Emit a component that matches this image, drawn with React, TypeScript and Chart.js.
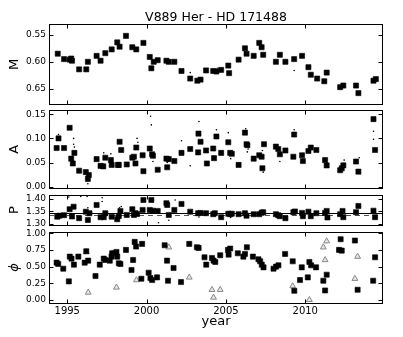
import React, { useEffect, useRef } from 'react';
import { Chart, registerables } from 'chart.js';

Chart.register(...registerables);
Chart.defaults.font.family = "'DejaVu Sans', sans-serif";
Chart.defaults.color = '#000';

// ---------- data ----------
const X_MIN = 1993.85;
const X_MAX = 2014.9;
const xTickYears = [1995, 2000, 2005, 2010];

const mTicks = [0.55, 0.6, 0.65];
const aTicks = [0.0, 0.05, 0.1, 0.15];
const pTicks = [1.3, 1.35, 1.4];
const phTicks = [0.0, 0.25, 0.5, 0.75, 1.0];

const mYears = [1994.4, 1994.8, 1995.15, 1995.25, 1995.3, 1995.75, 1996.2, 1996.3, 1996.85, 1997.1, 1997.4, 1997.8, 1998.15, 1998.3, 1998.7, 1999.1, 1999.35, 1999.8, 2000.2, 2000.3, 2000.45, 2000.7, 2001.25, 2001.4, 2001.75, 2002.2, 2002.75, 2003.2, 2003.4, 2003.75, 2004.2, 2004.4, 2004.7, 2005.15, 2005.2, 2005.8, 2006.2, 2006.3, 2006.75, 2007.1, 2007.25, 2007.35, 2008.15, 2008.4, 2008.75, 2009.3, 2009.8, 2010.2, 2010.35, 2010.75, 2011.2, 2011.35, 2012.2, 2012.4, 2013.2, 2013.35, 2014.3, 2014.45];
const mVals = [0.585, 0.595, 0.596, 0.594, 0.598, 0.614, 0.614, 0.6, 0.589, 0.598, 0.584, 0.577, 0.564, 0.572, 0.552, 0.573, 0.577, 0.565, 0.591, 0.612, 0.6, 0.597, 0.598, 0.6, 0.6, 0.617, 0.631, 0.635, 0.633, 0.616, 0.617, 0.618, 0.615, 0.607, 0.621, 0.596, 0.575, 0.585, 0.589, 0.565, 0.573, 0.587, 0.6, 0.587, 0.6, 0.595, 0.589, 0.61, 0.624, 0.631, 0.636, 0.62, 0.647, 0.644, 0.644, 0.658, 0.635, 0.632];
const mDotYears = [2002.75, 2004.45, 2009.3];
const mDotVals = [0.62, 0.612, 0.616];

const aYears = [1994.33, 1994.45, 1994.8, 1995.15, 1995.25, 1995.35, 1995.45, 1995.75, 1996.17, 1996.3, 1996.36, 1996.85, 1997.1, 1997.27, 1997.4, 1997.75, 1997.8, 1998.2, 1998.25, 1998.3, 1998.4, 1998.75, 1999.1, 1999.2, 1999.3, 1999.35, 1999.75, 1999.8, 2000.2, 2000.35, 2000.4, 2000.7, 2001.25, 2001.3, 2001.4, 2001.75, 2002.2, 2002.75, 2003.25, 2003.27, 2003.4, 2003.75, 2003.8, 2004.2, 2004.25, 2004.4, 2004.7, 2005.15, 2005.27, 2005.37, 2005.8, 2006.2, 2006.3, 2006.35, 2006.75, 2007.1, 2007.25, 2007.3, 2007.4, 2008.15, 2008.3, 2008.4, 2008.75, 2009.25, 2009.3, 2009.8, 2009.85, 2010.2, 2010.35, 2010.7, 2011.25, 2011.35, 2012.2, 2012.3, 2012.4, 2013.2, 2013.35, 2014.3, 2014.4];
const aVals = [0.08, 0.1, 0.08, 0.122, 0.058, 0.048, 0.07, 0.033, 0.03, 0.016, 0.024, 0.057, 0.043, 0.042, 0.06, 0.055, 0.045, 0.045, 0.045, 0.093, 0.076, 0.046, 0.06, 0.062, 0.048, 0.081, 0.065, 0.032, 0.079, 0.067, 0.064, 0.035, 0.058, 0.04, 0.057, 0.053, 0.07, 0.078, 0.071, 0.11, 0.093, 0.075, 0.048, 0.079, 0.059, 0.104, 0.07, 0.092, 0.07, 0.068, 0.045, 0.112, 0.088, 0.086, 0.058, 0.065, 0.062, 0.038, 0.088, 0.083, 0.078, 0.067, 0.075, 0.062, 0.108, 0.065, 0.053, 0.074, 0.081, 0.076, 0.055, 0.044, 0.034, 0.038, 0.044, 0.052, 0.031, 0.14, 0.076];
const aDotYears = [1994.45, 1995.4, 1995.4, 1995.45, 1996.3, 1997.3, 1997.75, 1998.4, 1999.4, 1999.45, 2000.25, 2000.3, 2000.4, 2001.3, 2002.2, 2002.75, 2003.3, 2004.25, 2004.4, 2005.15, 2005.3, 2006.25, 2006.35, 2006.4, 2007.3, 2007.35, 2008.4, 2009.3, 2012.45, 2013.4, 2014.3, 2014.3];
const aDotVals = [0.108, 0.1, 0.088, 0.082, 0.006, 0.07, 0.068, 0.092, 0.1, 0.092, 0.146, 0.128, 0.052, 0.05, 0.095, 0.043, 0.135, 0.082, 0.118, 0.112, 0.058, 0.12, 0.072, 0.078, 0.075, 0.03, 0.052, 0.118, 0.055, 0.06, 0.115, 0.098];

const pYears = [1994.37, 1994.5, 1994.8, 1995.15, 1995.3, 1995.4, 1995.75, 1996.17, 1996.3, 1996.4, 1996.85, 1997.1, 1997.3, 1997.4, 1997.8, 1998.15, 1998.25, 1998.35, 1998.75, 1999.1, 1999.2, 1999.3, 1999.4, 1999.75, 1999.8, 2000.2, 2000.3, 2000.4, 2000.7, 2001.25, 2001.3, 2001.4, 2001.75, 2002.2, 2002.75, 2003.25, 2003.4, 2003.75, 2004.2, 2004.3, 2004.7, 2005.15, 2005.27, 2005.37, 2005.8, 2006.2, 2006.3, 2006.75, 2007.1, 2007.25, 2007.35, 2008.15, 2008.3, 2008.4, 2008.75, 2009.25, 2009.35, 2009.8, 2009.85, 2010.2, 2010.35, 2010.7, 2011.25, 2011.35, 2011.4, 2012.2, 2012.35, 2012.4, 2013.2, 2013.35, 2014.3, 2014.4];
const pVals = [1.329, 1.333, 1.335, 1.359, 1.33, 1.369, 1.323, 1.349, 1.316, 1.343, 1.376, 1.327, 1.327, 1.343, 1.329, 1.319, 1.332, 1.352, 1.336, 1.359, 1.336, 1.343, 1.34, 1.356, 1.396, 1.356, 1.396, 1.353, 1.352, 1.383, 1.376, 1.336, 1.356, 1.38, 1.349, 1.343, 1.344, 1.343, 1.339, 1.343, 1.327, 1.341, 1.339, 1.341, 1.339, 1.343, 1.333, 1.339, 1.339, 1.345, 1.347, 1.339, 1.335, 1.331, 1.323, 1.347, 1.35, 1.344, 1.331, 1.349, 1.331, 1.343, 1.344, 1.352, 1.326, 1.339, 1.352, 1.327, 1.347, 1.372, 1.353, 1.327];
const pDotYears = [1995.1, 1995.85, 1996.25, 1996.3, 1997.2, 1997.2, 1998.3, 1998.4, 2000.75, 2001.8, 2001.4, 2003.3, 2005.3, 2013.3, 2010.3];
const pDotVals = [1.408, 1.41, 1.41, 1.365, 1.405, 1.39, 1.365, 1.37, 1.305, 1.396, 1.315, 1.328, 1.326, 1.38, 1.325];
const pSolidLevel = 1.344;
const pDashedLevel = 1.335;

const phYears = [1994.33, 1994.43, 1994.75, 1995.1, 1995.16, 1995.27, 1995.42, 1995.7, 1996.1, 1996.2, 1996.32, 1996.78, 1997.05, 1997.3, 1997.4, 1997.68, 1997.79, 1997.83, 1998.1, 1998.15, 1998.25, 1998.35, 1998.7, 1999.05, 1999.15, 1999.25, 1999.34, 1999.67, 1999.72, 2000.13, 2000.24, 2000.35, 2000.66, 2001.14, 2001.29, 2001.35, 2001.7, 2002.17, 2002.69, 2003.17, 2003.28, 2003.65, 2003.76, 2004.12, 2004.22, 2004.33, 2004.64, 2005.13, 2005.17, 2005.27, 2005.75, 2006.1, 2006.2, 2006.32, 2006.7, 2007.05, 2007.16, 2007.26, 2007.37, 2008.0, 2008.16, 2008.31, 2008.73, 2009.21, 2009.31, 2009.67, 2009.78, 2010.16, 2010.26, 2010.37, 2010.68, 2011.14, 2011.25, 2011.35, 2012.13, 2012.23, 2012.3, 2013.13, 2013.3, 2014.28, 2014.4];
const phVals = [0.56, 0.54, 0.47, 0.28, 0.65, 0.62, 0.53, 0.65, 0.56, 0.73, 0.59, 0.36, 0.53, 0.62, 0.6, 0.59, 0.65, 0.7, 0.72, 0.65, 0.55, 0.54, 0.75, 0.45, 0.6, 0.87, 0.8, 0.32, 0.84, 0.41, 0.33, 0.3, 0.34, 0.82, 0.59, 0.29, 0.48, 0.27, 0.84, 0.79, 0.78, 0.64, 0.53, 0.63, 0.59, 0.57, 0.67, 0.75, 0.68, 0.77, 0.7, 0.65, 0.69, 0.79, 0.65, 0.61, 0.58, 0.53, 0.49, 0.47, 0.5, 0.52, 0.69, 0.58, 0.14, 0.3, 0.49, 0.34, 0.57, 0.52, 0.49, 0.29, 0.145, 0.38, 0.75, 0.91, 0.74, 0.89, 0.155, 0.29, 0.64];
const triYears = [1996.2, 1996.32, 1997.83, 1998.1, 1999.36, 2001.4, 2002.69, 2004.12, 2004.22, 2004.64, 2009.21, 2010.26, 2011.14, 2011.25, 2011.35, 2013.13, 2013.3];
const triVals = [0.72, 0.115, 0.7, 0.19, 0.3, 0.79, 0.34, 0.155, 0.04, 0.155, 0.21, 0.005, 0.79, 0.6, 0.88, 0.32, 0.65];

// ---------- helpers ----------
const pts = (xs: number[], ys: number[]) => xs.map((x, i) => ({ x, y: ys[i] }));

const squares = (xs: number[], ys: number[]) => ({
  data: pts(xs, ys),
  pointStyle: 'rect',
  pointRadius: 3.6,
  backgroundColor: '#000',
  borderColor: '#000',
  borderWidth: 0.6,
  order: 0,
});
const dots = (xs: number[], ys: number[]) => ({
  data: pts(xs, ys),
  pointStyle: 'circle',
  pointRadius: 0.8,
  backgroundColor: '#000',
  borderColor: '#000',
  borderWidth: 0,
  order: 1,
});
const triangles = (xs: number[], ys: number[]) => ({
  data: pts(xs, ys),
  pointStyle: 'triangle',
  pointRadius: 3.4,
  backgroundColor: '#e4e4e4',
  borderColor: '#8a8a8a',
  borderWidth: 1,
  order: 2,
});

const framePlugin = {
  id: 'frame',
  beforeDatasetsDraw(chart: any, _a: any, opts: any) {
    const { ctx, chartArea: ca, scales } = chart;
    const lines = opts.hlines || [];
    ctx.save();
    for (const h of lines) {
      const y = Math.round(scales.y.getPixelForValue(h.value)) + 0.5;
      ctx.beginPath();
      ctx.setLineDash(h.dash || []);
      ctx.strokeStyle = h.color;
      ctx.lineWidth = 1;
      ctx.moveTo(ca.left, y);
      ctx.lineTo(ca.right, y);
      ctx.stroke();
    }
    ctx.restore();
  },
  afterDatasetsDraw(chart: any, _a: any, opts: any) {
    const { ctx, chartArea: ca, scales } = chart;
    ctx.save();
    ctx.strokeStyle = '#000';
    ctx.lineWidth = 1;
    const L = Math.round(ca.left) + 0.5;
    const R = Math.round(ca.right) - 0.5;
    const T = Math.round(ca.top) + 0.5;
    const B = Math.round(ca.bottom) - 0.5;
    ctx.strokeRect(L, T, R - L, B - T);
    const tl = 4;
    ctx.beginPath();
    for (const v of opts.xTicks) {
      const x = Math.round(scales.x.getPixelForValue(v)) + 0.5;
      ctx.moveTo(x, B); ctx.lineTo(x, B - tl);
      ctx.moveTo(x, T); ctx.lineTo(x, T + tl);
    }
    for (const v of opts.yTicks) {
      const y = Math.round(scales.y.getPixelForValue(v)) + 0.5;
      ctx.moveTo(L, y); ctx.lineTo(L + tl, y);
      ctx.moveTo(R, y); ctx.lineTo(R - tl, y);
    }
    ctx.stroke();
    ctx.restore();
  },
};

type Panel = {
  label: string;
  italic?: boolean;
  yMin: number;
  yMax: number;
  reverse?: boolean;
  yTicks: number[];
  padTop: number;
  padBottom: number;
  title?: string;
  showX?: boolean;
  hlines?: any[];
  datasets: any[];
};

const panels: Panel[] = [
  {
    label: 'M', yMin: 0.53, yMax: 0.68, reverse: true, yTicks: mTicks,
    padTop: 0, padBottom: 232, title: 'V889 Her - HD 171488',
    datasets: [squares(mYears, mVals), dots(mDotYears, mDotVals)],
  },
  {
    label: 'A', yMin: -0.005, yMax: 0.16, yTicks: aTicks,
    padTop: 109.5, padBottom: 148,
    datasets: [squares(aYears, aVals), dots(aDotYears, aDotVals)],
  },
  {
    label: 'P', yMin: 1.293, yMax: 1.417, yTicks: pTicks,
    padTop: 194.7, padBottom: 111.3,
    hlines: [
      { value: pSolidLevel, color: '#000', dash: [] },
      { value: pDashedLevel, color: '#555', dash: [5, 4] },
    ],
    datasets: [squares(pYears, pVals), dots(pDotYears, pDotVals)],
  },
  {
    label: 'ϕ', italic: true, yMin: -0.05, yMax: 1.025, yTicks: phTicks,
    padTop: 231.5, padBottom: 0, showX: true,
    datasets: [squares(phYears, phVals), triangles(triYears, triVals)],
  },
];

function buildConfig(p: Panel): any {
  return {
    type: 'scatter',
    data: { datasets: p.datasets },
    plugins: [framePlugin],
    options: {
      responsive: false,
      animation: false,
      devicePixelRatio: 1,
      events: [],
      layout: { padding: { top: p.padTop, bottom: p.padBottom, left: 0, right: 20 } },
      plugins: {
        legend: { display: false },
        tooltip: { enabled: false },
        title: {
          display: !!p.title,
          text: p.title || '',
          fullSize: false,
          font: { size: 12.5, weight: 'normal' },
          color: '#000',
          padding: { top: 10, bottom: -1 },
        },
        frame: { xTicks: xTickYears, yTicks: p.yTicks, hlines: p.hlines || [] },
      },
      scales: {
        x: {
          type: 'linear',
          min: X_MIN,
          max: X_MAX,
          display: !!p.showX,
          grid: { display: false, drawTicks: false },
          border: { display: false },
          afterBuildTicks: (s: any) => { s.ticks = xTickYears.map((v) => ({ value: v })); },
          afterFit: (s: any) => { if (p.showX) s.height = 33.5; },
          ticks: {
            autoSkip: false,
            maxRotation: 0,
            padding: 2,
            font: { size: 10 },
            color: '#000',
            callback: (v: any) => String(v),
          },
          title: {
            display: !!p.showX,
            text: 'year',
            font: { size: 13 },
            color: '#000',
            padding: { top: 0, bottom: 7.7 },
          },
        },
        y: {
          type: 'linear',
          min: p.yMin,
          max: p.yMax,
          reverse: !!p.reverse,
          grid: { display: false, drawTicks: false },
          border: { display: false },
          afterFit: (s: any) => { s.width = 49; },
          afterBuildTicks: (s: any) => { s.ticks = p.yTicks.map((v) => ({ value: v })); },
          ticks: {
            padding: 3,
            font: { size: 9 },
            color: '#000',
            callback: (v: any) => Number(v).toFixed(2),
          },
          title: {
            display: true,
            text: p.label,
            font: { size: 13, style: p.italic ? 'italic' : 'normal' },
            color: '#000',
            padding: { top: 7.2, bottom: 0 },
          },
        },
      },
    },
  };
}

export default function App() {
  const r0 = useRef<HTMLCanvasElement>(null);
  const r1 = useRef<HTMLCanvasElement>(null);
  const r2 = useRef<HTMLCanvasElement>(null);
  const r3 = useRef<HTMLCanvasElement>(null);
  const refs = [r0, r1, r2, r3];

  useEffect(() => {
    const charts = panels.map((p, i) => new Chart(refs[i].current as HTMLCanvasElement, buildConfig(p)));
    return () => charts.forEach((c) => c.destroy());
  }, []);

  return (
    <div style={{ position: 'absolute', left: 0, top: 0, width: 403, height: 337, background: '#fff' }}>
      {refs.map((r, i) => (
        <canvas
          key={i}
          ref={r}
          width={403}
          height={337}
          style={{ position: 'absolute', left: 0, top: 0, width: 403, height: 337 }}
        />
      ))}
    </div>
  );
}
